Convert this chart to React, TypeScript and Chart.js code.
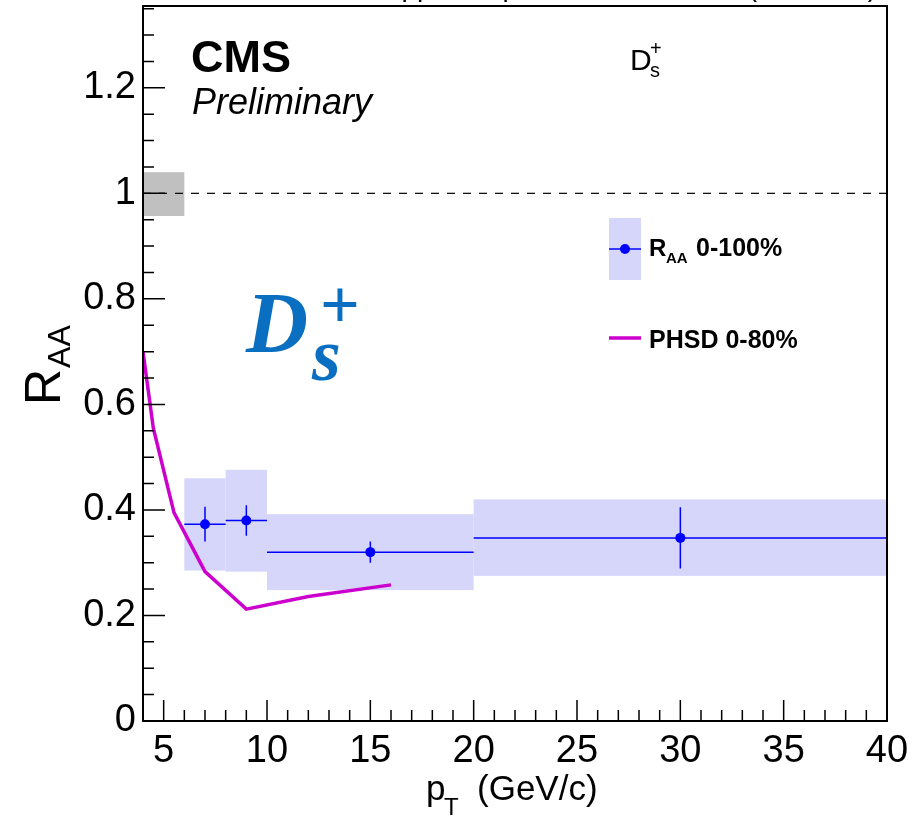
import React, { useEffect, useRef } from "react";
import { Chart, registerables } from "chart.js";

Chart.register(...registerables);

// ---- data ----
const binLow = [6, 8, 10, 20];
const binHigh = [8, 10, 20, 40];
const ptCenter = [7, 9, 15, 30];
const raaValues = [0.373, 0.38, 0.32, 0.347];
const statErr = [0.033, 0.029, 0.02, 0.058];
const systLow = [0.285, 0.283, 0.248, 0.275];
const systHigh = [0.46, 0.476, 0.392, 0.42];

const phsdPt = [4, 4.5, 5.5, 7, 9, 12, 16];
const phsdRaa = [0.7, 0.555, 0.395, 0.283, 0.212, 0.236, 0.258];

const normBoxX = [4, 6];
const normBoxY = [0.957, 1.04];
const refLineX = [4, 40];
const refLineY = [1, 1];

const xTicks = [5, 10, 15, 20, 25, 30, 35, 40];
const yTicks = [0, 0.2, 0.4, 0.6, 0.8, 1, 1.2];
const yTickLabels = ["0", "0.2", "0.4", "0.6", "0.8", "1", "1.2"];
const xMin = 4, xMax = 40, yMin = 0, yMax = 1.355;

const SANS = '"Liberation Sans", Arial, Helvetica, sans-serif';
const SERIF = '"Liberation Serif", "Times New Roman", serif';
const BOX_FILL = "rgb(214,214,250)";
const BLUE = "#0000ff";
const MAGENTA = "#cc00cc";

const zeroPad = (s: any) => {
  s.paddingTop = 0;
  s.paddingBottom = 0;
  s.paddingLeft = 0;
  s.paddingRight = 0;
};

const decorPlugin = {
  id: "decor",
  beforeDatasetsDraw(chart: any) {
    const { ctx, chartArea: a } = chart;
    const xs = chart.scales.x, ys = chart.scales.y;
    ctx.save();
    ctx.beginPath();
    ctx.rect(a.left, a.top, a.right - a.left, a.bottom - a.top);
    ctx.clip();
    // systematic boxes
    ctx.fillStyle = BOX_FILL;
    for (let i = 0; i < binLow.length; i++) {
      const x0 = xs.getPixelForValue(binLow[i]);
      const x1 = xs.getPixelForValue(binHigh[i]);
      const y0 = ys.getPixelForValue(systHigh[i]);
      const y1 = ys.getPixelForValue(systLow[i]);
      ctx.fillRect(x0, y0, x1 - x0, y1 - y0);
    }
    // normalisation box
    ctx.fillStyle = "rgb(192,192,192)";
    {
      const x0 = xs.getPixelForValue(normBoxX[0]);
      const x1 = xs.getPixelForValue(normBoxX[1]);
      const y0 = ys.getPixelForValue(normBoxY[1]);
      const y1 = ys.getPixelForValue(normBoxY[0]);
      ctx.fillRect(x0, y0, x1 - x0, y1 - y0);
    }
    // error bars
    ctx.strokeStyle = BLUE;
    ctx.lineWidth = 1.5;
    for (let i = 0; i < binLow.length; i++) {
      const y = ys.getPixelForValue(raaValues[i]);
      const xc = xs.getPixelForValue(ptCenter[i]);
      ctx.beginPath();
      ctx.moveTo(xs.getPixelForValue(binLow[i]), y);
      ctx.lineTo(xs.getPixelForValue(binHigh[i]), y);
      ctx.moveTo(xc, ys.getPixelForValue(raaValues[i] + statErr[i]));
      ctx.lineTo(xc, ys.getPixelForValue(raaValues[i] - statErr[i]));
      ctx.stroke();
    }
    ctx.restore();
  },
  afterDraw(chart: any) {
    const { ctx, chartArea: a } = chart;
    const xs = chart.scales.x, ys = chart.scales.y;
    ctx.save();
    // frame
    ctx.strokeStyle = "#000";
    ctx.lineWidth = 2;
    ctx.strokeRect(a.left, a.top, a.right - a.left, a.bottom - a.top);
    // ticks
    ctx.lineWidth = 1.5;
    ctx.beginPath();
    for (let v = xMin; v <= xMax + 1e-9; v += 1) {
      const px = xs.getPixelForValue(v);
      const len = Math.abs(v % 5) < 1e-9 ? 21 : 11;
      ctx.moveTo(px, a.bottom);
      ctx.lineTo(px, a.bottom - len);
    }
    for (let k = 0; k * 0.05 <= yMax + 1e-9; k++) {
      const v = k * 0.05;
      const py = ys.getPixelForValue(v);
      const len = k % 4 === 0 ? 22 : 11;
      ctx.moveTo(a.left, py);
      ctx.lineTo(a.left + len, py);
    }
    ctx.stroke();

    ctx.fillStyle = "#000";
    ctx.textBaseline = "alphabetic";
    // cut-off top title
    ctx.font = `28px ${SANS}`;
    ctx.textAlign = "right";
    ctx.fillText("pp 27.4 pb\u207B\u00B9, PbPb 0.6 nb\u207B\u00B9 (5.02 TeV)", 877, -4);
    ctx.textAlign = "left";

    // CMS Preliminary
    ctx.font = `bold 45px ${SANS}`;
    ctx.fillText("CMS", 191, 72);
    ctx.font = `italic 36px ${SANS}`;
    ctx.fillText("Preliminary", 192, 114);

    // small Ds+ label
    ctx.font = `30px ${SANS}`;
    ctx.fillText("D", 630, 70);
    ctx.font = `20px ${SANS}`;
    ctx.fillText("s", 650, 77);
    ctx.fillText("+", 650, 55);

    // big Ds+
    ctx.fillStyle = "#0a6fc0";
    ctx.font = `bold italic 86px ${SERIF}`;
    ctx.fillText("D", 246, 352);
    ctx.font = `bold italic 74px ${SERIF}`;
    ctx.fillText("s", 312, 380);
    ctx.font = `bold 70px ${SERIF}`;
    ctx.textAlign = "center";
    ctx.fillText("+", 340, 328);
    ctx.textAlign = "left";

    // legend
    ctx.fillStyle = BOX_FILL;
    ctx.fillRect(609, 218, 32, 62);
    ctx.strokeStyle = BLUE;
    ctx.lineWidth = 1.5;
    ctx.beginPath();
    ctx.moveTo(609, 249);
    ctx.lineTo(641, 249);
    ctx.stroke();
    ctx.fillStyle = BLUE;
    ctx.beginPath();
    ctx.arc(625, 249, 5, 0, Math.PI * 2);
    ctx.fill();
    ctx.strokeStyle = MAGENTA;
    ctx.lineWidth = 3.5;
    ctx.beginPath();
    ctx.moveTo(609, 338);
    ctx.lineTo(641, 338);
    ctx.stroke();
    ctx.fillStyle = "#000";
    ctx.font = `bold 24px ${SANS}`;
    ctx.fillText("R", 649, 256);
    ctx.font = `bold 15px ${SANS}`;
    ctx.fillText("AA", 666, 263);
    ctx.font = `bold 25px ${SANS}`;
    ctx.fillText("0-100%", 696, 256);
    ctx.fillText("PHSD 0-80%", 649, 348);

    // x title
    ctx.font = `35px ${SANS}`;
    ctx.fillText("p", 426, 800);
    ctx.font = `24px ${SANS}`;
    ctx.fillText("T", 444, 815);
    ctx.font = `35px ${SANS}`;
    ctx.fillText("(GeV/c)", 477, 800);

    // y title
    ctx.translate(60, 405);
    ctx.rotate(-Math.PI / 2);
    ctx.font = `50px ${SANS}`;
    ctx.fillText("R", 0, 0);
    const rw = ctx.measureText("R").width;
    ctx.font = `32px ${SANS}`;
    ctx.fillText("AA", rw + 1, 10);
    ctx.restore();
  },
};

export default function App() {
  const ref = useRef<HTMLCanvasElement | null>(null);
  useEffect(() => {
    if (!ref.current) return;
    const chart = new Chart(ref.current, {
      type: "scatter",
      data: {
        datasets: [
          {
            label: "R_AA 0-100%",
            data: ptCenter.map((x, i) => ({ x, y: raaValues[i] })),
            backgroundColor: BLUE,
            borderColor: BLUE,
            borderWidth: 0,
            pointRadius: 5,
            order: 0,
          },
          {
            label: "PHSD 0-80%",
            data: phsdPt.map((x, i) => ({ x, y: phsdRaa[i] })),
            showLine: true,
            borderColor: MAGENTA,
            backgroundColor: MAGENTA,
            borderWidth: 3.5,
            pointRadius: 0,
            tension: 0,
            order: 1,
          },
          {
            label: "ref",
            data: refLineX.map((x, i) => ({ x, y: refLineY[i] })),
            showLine: true,
            borderColor: "#000",
            borderWidth: 1.2,
            borderDash: [8, 8],
            pointRadius: 0,
            order: 2,
          },
        ] as any,
      },
      options: {
        animation: false,
        responsive: false,
        devicePixelRatio: 1,
        layout: { padding: { left: 0, right: 25, top: 6, bottom: 0 } },
        plugins: { legend: { display: false }, tooltip: { enabled: false } },
        scales: {
          x: {
            type: "linear",
            min: xMin,
            max: xMax,
            afterBuildTicks: (s: any) => {
              s.ticks = xTicks.map((v) => ({ value: v }));
            },
            afterFit: (s: any) => {
              s.height = 99;
              zeroPad(s);
            },
            grid: { display: false, drawTicks: false },
            border: { display: false },
            ticks: {
              font: { size: 38, family: SANS },
              color: "#000",
              padding: 8,
              maxRotation: 0,
              autoSkip: false,
              callback: (v: any) => String(v),
            },
          },
          y: {
            type: "linear",
            min: yMin,
            max: yMax,
            afterBuildTicks: (s: any) => {
              s.ticks = yTicks.map((v) => ({ value: v }));
            },
            afterFit: (s: any) => {
              s.width = 143;
              zeroPad(s);
            },
            grid: { display: false, drawTicks: false },
            border: { display: false },
            ticks: {
              font: { size: 38, family: SANS },
              color: "#000",
              padding: 7,
              autoSkip: false,
              callback: (v: any) => {
                const i = yTicks.findIndex((t) => Math.abs(t - v) < 1e-9);
                return i >= 0 ? yTickLabels[i] : "";
              },
            },
          },
        },
      } as any,
      plugins: [decorPlugin],
    });
    return () => chart.destroy();
  }, []);
  return (
    <div style={{ position: "absolute", left: 0, top: 0, width: 912, height: 820, background: "#fff" }}>
      <canvas ref={ref} width={912} height={820} />
    </div>
  );
}
